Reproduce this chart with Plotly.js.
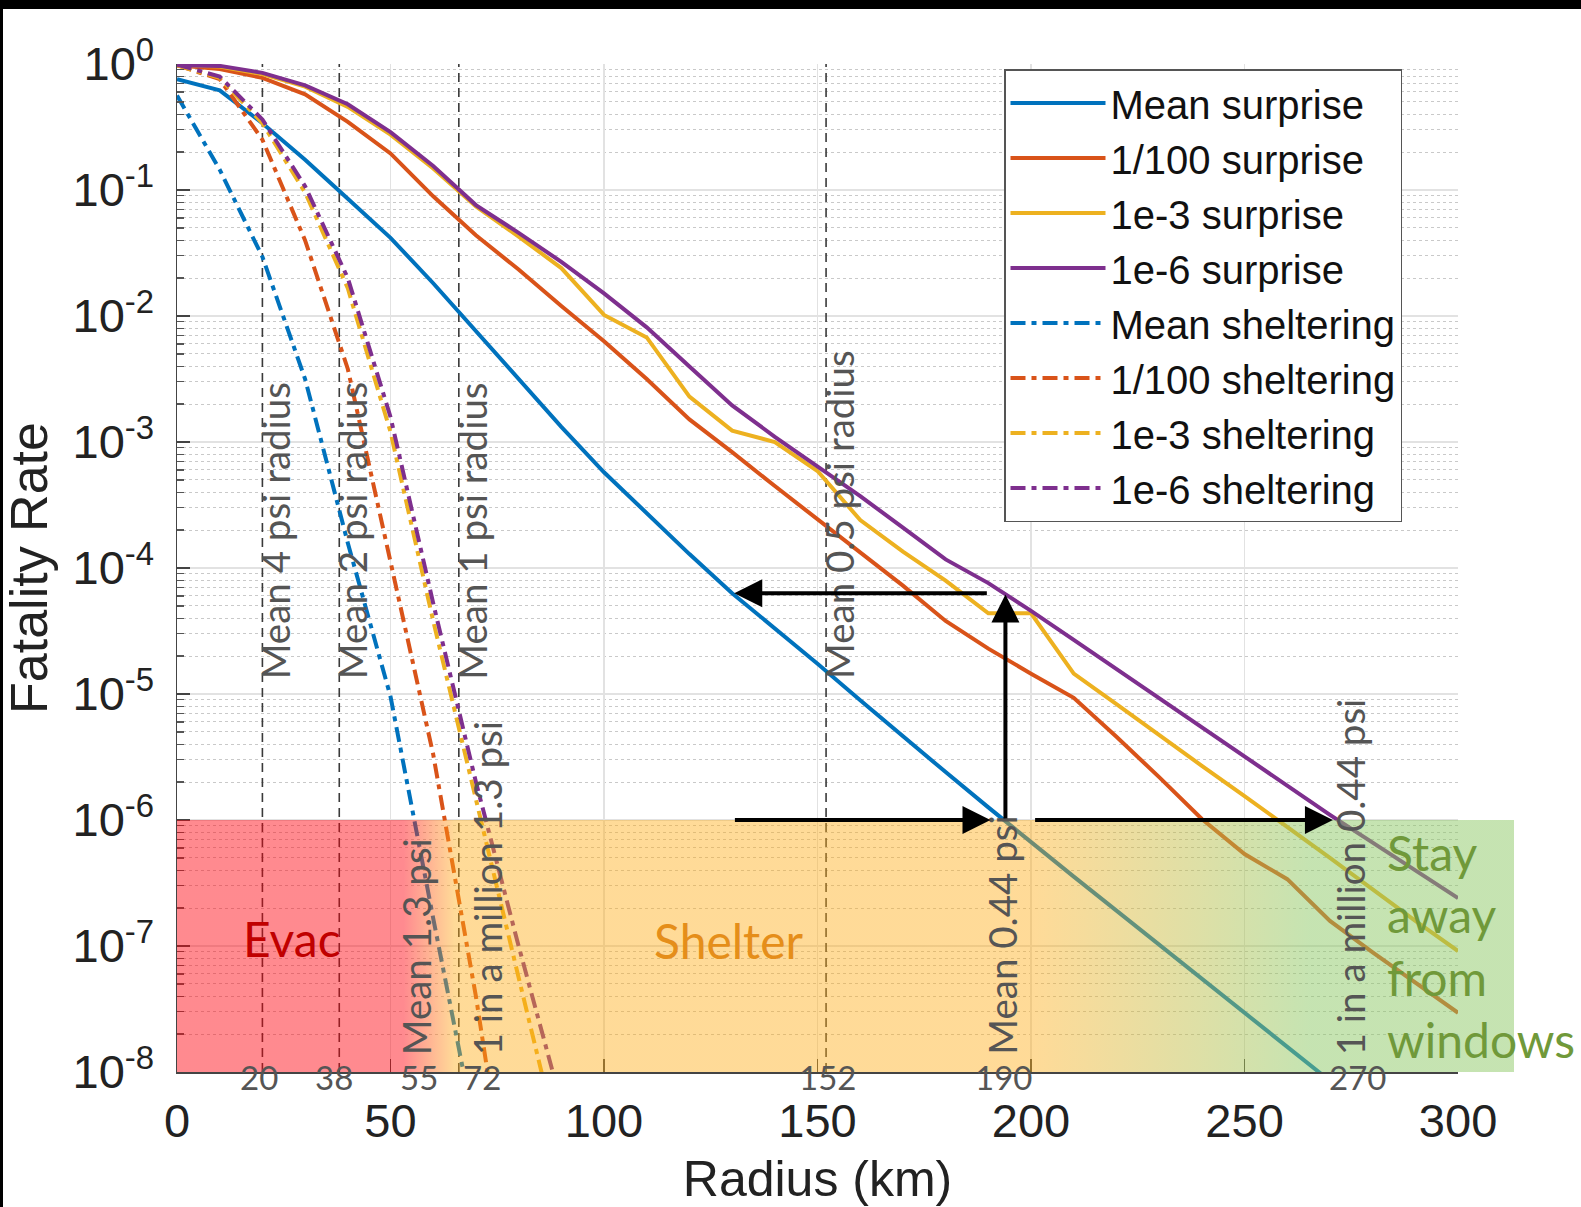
<!DOCTYPE html>
<html>
<head>
<meta charset="utf-8">
<script src="https://cdn.plot.ly/plotly-3.0.1.min.js"></script>
<style>
  html, body { margin: 0; padding: 0; background: #fff; }
  #chart { width: 1581px; height: 1207px; }
</style>
</head>
<body>
<div id="chart"></div>
<script>
// Radius grid (km) shared by the surprise curves
const radius = [0,10,20,30,40,50,60,70,80,90,100,110,120,130,140,150,160,170,180,190,200,210,220,230,240,250,260,270,280,290,300];
// Radius grid (km) for the sheltering curves
const shelterRadius = [0,10,20,30,40,50,60,70,80,90];

// Fatality rate, people caught outside (surprise)
const meanSurprise   = [0.759,0.617,0.339,0.174,0.0851,0.0417,0.0182,7.59e-3,3.16e-3,1.32e-3,5.75e-4,2.69e-4,1.29e-4,6.31e-5,3.31e-5,1.74e-5,8.91e-6,4.57e-6,2.40e-6,1.26e-6,6.61e-7,3.55e-7,1.91e-7,1.02e-7,5.50e-8,2.95e-8,1.58e-8,8.5e-9];
const pct1Surprise   = [0.977,0.912,0.776,0.575,0.347,0.195,0.0891,0.0437,0.0234,0.0120,6.31e-3,3.16e-3,1.51e-3,8.32e-4,4.47e-4,2.45e-4,1.35e-4,7.24e-5,3.80e-5,2.29e-5,1.45e-5,9.33e-6,4.57e-6,2.19e-6,1.02e-6,5.37e-7,3.39e-7,1.58e-7,8.91e-8,5.13e-8,2.95e-8];
const e3Surprise     = [0.977,0.955,0.832,0.661,0.457,0.275,0.148,0.0741,0.0427,0.0240,0.0102,6.76e-3,2.29e-3,1.23e-3,1.00e-3,5.89e-4,2.40e-4,1.35e-4,7.94e-5,4.37e-5,4.37e-5,1.45e-5,8.32e-6,4.68e-6,2.69e-6,1.55e-6,8.91e-7,5.01e-7,2.82e-7,1.58e-7,9.12e-8];
const e6Surprise     = [0.977,0.966,0.851,0.676,0.479,0.288,0.155,0.0759,0.0457,0.0269,0.0151,8.13e-3,3.98e-3,1.95e-3,1.10e-3,6.46e-4,3.72e-4,2.09e-4,1.17e-4,7.59e-5,4.57e-5,2.69e-5,1.58e-5,9.33e-6,5.50e-6,3.24e-6,1.91e-6,1.10e-6,6.61e-7,3.98e-7,2.40e-7];

// Fatality rate, people sheltering indoors
const meanSheltering = [0.562,0.145,0.0295,3.16e-3,1.58e-4,9.55e-6,1.66e-7,3.16e-9];
const pct1Sheltering = [0.977,0.759,0.251,0.0398,3.80e-3,1.12e-4,3.31e-6,3.98e-8,2.51e-10];
const e3Sheltering   = [0.977,0.776,0.339,0.0955,0.0166,1.20e-3,3.80e-5,1.41e-6,5.62e-8,2.24e-9];
const e6Sheltering   = [0.989,0.794,0.363,0.107,0.0200,1.58e-3,5.25e-5,2.00e-6,1.0e-7,5.62e-9];

const seriesNames = ['Mean surprise','1/100 surprise','1e-3 surprise','1e-6 surprise',
                     'Mean sheltering','1/100 sheltering','1e-3 sheltering','1e-6 sheltering'];

// Mean overpressure radii (km) drawn as dashed reference lines
const psiRadii  = [20, 38, 66, 152];
const psiLabels = ['Mean 4 psi radius','Mean 2 psi radius','Mean 1 psi radius','Mean 0.5 psi radius'];

// Where each curve reaches a one-in-a-million fatality rate
const crossLabels = ['Mean 1.3 psi','1 in a million 1.3 psi','Mean 0.44 psi','1 in a million 0.44 psi'];
const crossRadii  = [55, 72, 190, 270];
const radiusMarks = [20, 38, 55, 72, 152, 190, 270];

// Action zones below 1e-6 (km)
const evacEnd = 53, shelterStart = 65, shelterEnd = 200, windowsStart = 265, zoneRight = 313.1;
const zoneLow = 1e-8, zoneHigh = 1e-6;

const xTicks = [0, 50, 100, 150, 200, 250, 300];
const yTicks = [1e-8,1e-7,1e-6,1e-5,1e-4,1e-3,1e-2,1e-1,1];
const yTickText = ['10<sup>-8</sup>','10<sup>-7</sup>','10<sup>-6</sup>','10<sup>-5</sup>',
                   '10<sup>-4</sup>','10<sup>-3</sup>','10<sup>-2</sup>','10<sup>-1</sup>','10<sup>0</sup>'];

const minorY = [];
for (let e = -8; e < 0; e++) for (let m = 2; m <= 9; m++) minorY.push(m * Math.pow(10, e));

const palette = ['#0072BD', '#D95319', '#EDB120', '#7E2F8E'];
const dashDot = '15px,6px,5px,6px';

const traces = [];

// dashed reference radii
psiRadii.forEach(r => {
  traces.push({
    type: 'scatter', mode: 'lines', x: [r, r], y: [1e-8, 1],
    line: {color: '#3a3a3a', width: 1.6, dash: '9px,6px'},
    showlegend: false, hoverinfo: 'skip'
  });
});

const surpriseSets = [meanSurprise, pct1Surprise, e3Surprise, e6Surprise];
const shelterSets  = [meanSheltering, pct1Sheltering, e3Sheltering, e6Sheltering];

surpriseSets.forEach((vals, i) => {
  traces.push({
    type: 'scatter', mode: 'lines', name: seriesNames[i],
    x: radius.slice(0, vals.length), y: vals,
    line: {color: palette[i], width: 4}
  });
});
shelterSets.forEach((vals, i) => {
  traces.push({
    type: 'scatter', mode: 'lines', name: seriesNames[4 + i],
    x: shelterRadius.slice(0, vals.length), y: vals,
    line: {color: palette[i], width: 4, dash: dashDot}
  });
});

// translucent action-zone band laid over the curves
const f = v => v / zoneRight;
traces.push({
  type: 'scatter', mode: 'none', xaxis: 'x2', yaxis: 'y2',
  x: [0, zoneRight, zoneRight, 0, 0], y: [zoneHigh, zoneHigh, zoneLow, zoneLow, zoneHigh],
  fill: 'toself',
  fillgradient: {
    type: 'horizontal',
    colorscale: [
      [0, 'rgba(255,0,12,0.46)'],
      [f(evacEnd), 'rgba(255,0,12,0.46)'],
      [f(shelterStart), 'rgba(255,172,20,0.44)'],
      [f(shelterEnd), 'rgba(255,172,20,0.44)'],
      [f(windowsStart), 'rgba(140,200,100,0.5)'],
      [1, 'rgba(140,200,100,0.5)']
    ]
  },
  showlegend: false, hoverinfo: 'skip'
});

const calibri = 'Lato, "Open Sans", sans-serif';
const grayText = '#555555';
const annotations = [];

psiRadii.forEach((r, i) => {
  annotations.push({
    x: r, y: -4.9, xref: 'x', yref: 'y', text: psiLabels[i], showarrow: false,
    textangle: -90, xanchor: 'center', yanchor: 'bottom', xshift: 13,
    font: {family: calibri, size: 38.5, color: grayText}
  });
});

const crossShift = [5, 2, 14, 20];
crossRadii.forEach((r, i) => {
  annotations.push({
    x: r, y: -7.88, xref: 'x', yref: 'y', text: crossLabels[i], showarrow: false,
    textangle: -90, xanchor: 'center', yanchor: 'bottom', xshift: crossShift[i],
    font: {family: calibri, size: 38.5, color: grayText}
  });
});

// pixel row helpers for paper-referenced positions (plot area 177..1514 x, 64..1072 y)
const px = v => (v - 177) / 1337;
const py = v => (1072 - v) / 1008;

const markShift = [-3, -5, 7, -2, 1, 15, 28];
radiusMarks.forEach((r, i) => {
  annotations.push({
    x: r, y: py(1077), xref: 'x', yref: 'paper', text: String(r), showarrow: false,
    xanchor: 'center', yanchor: 'middle', xshift: markShift[i],
    font: {family: calibri, size: 33, color: grayText}
  });
});

annotations.push(
  {x: 27, y: -6.94, xref: 'x', yref: 'y', text: 'Evac', showarrow: false,
   font: {family: calibri, size: 48, color: '#C00000'}},
  {x: 129.3, y: -6.96, xref: 'x', yref: 'y', text: 'Shelter', showarrow: false,
   font: {family: calibri, size: 48, color: '#E58E1A'}},
  {x: 282.8, y: -7.0, xref: 'x', yref: 'y', text: 'Stay<br>away<br>from<br>windows', showarrow: false,
   xanchor: 'left', align: 'left', font: {family: calibri, size: 48, color: '#70993A'}}
);

// reading arrows: [tailX, tailLog10, tipX, tipLog10]
const arrowPaths = [
  [130.3, -6, 190.5, -6],
  [194, -6, 194, -4.21],
  [190, -4.2, 130.5, -4.2],
  [200.6, -6, 270.7, -6]
];
arrowPaths.forEach(p => {
  annotations.push({
    x: p[2], y: p[3], ax: p[0], ay: p[1], xref: 'x', yref: 'y', axref: 'x', ayref: 'y',
    text: '', showarrow: true, arrowhead: 2, arrowsize: 1.4, arrowwidth: 4,
    arrowcolor: '#000', standoff: 0, startstandoff: 0
  });
});

const layout = {
  width: 1581, height: 1207,
  margin: {l: 177, r: 67, t: 64, b: 135, pad: 0},
  paper_bgcolor: '#fff', plot_bgcolor: 'rgba(0,0,0,0)',
  font: {family: '"Liberation Sans", Arial, sans-serif', color: '#222'},
  showlegend: true,
  xaxis: {
    domain: [0, 300 / zoneRight], range: [0, 300], anchor: 'y',
    tickmode: 'array', tickvals: xTicks,
    ticks: 'inside', ticklen: 13, tickwidth: 1.5, tickcolor: '#444',
    showline: true, linecolor: '#444', linewidth: 1.5,
    showgrid: true, gridcolor: '#e2e2e2', gridwidth: 1.2, zeroline: false,
    tickfont: {size: 47, color: '#222'}, ticklabelstandoff: 7,
    title: {text: 'Radius (km)', font: {size: 50, color: '#222'}, standoff: 26}
  },
  yaxis: {
    type: 'log', range: [-8, 0], anchor: 'x',
    tickmode: 'array', tickvals: yTicks, ticktext: yTickText,
    ticks: 'inside', ticklen: 13, tickwidth: 1.5, tickcolor: '#444',
    showline: true, linecolor: '#444', linewidth: 1.5,
    showgrid: true, gridcolor: '#e2e2e2', gridwidth: 1.2, zeroline: false,
    tickfont: {size: 47, color: '#222'}, ticklabelstandoff: 12,
    minor: {tickmode: 'array', tickvals: minorY, ticks: 'inside', ticklen: 7, tickwidth: 1.2,
            tickcolor: '#555', showgrid: true, gridcolor: '#c9c9c9', griddash: 'dot', gridwidth: 1},
    title: {text: 'Fatality Rate', font: {size: 52, color: '#222'}, standoff: 10}
  },
  xaxis2: {domain: [0, 1], range: [0, zoneRight], anchor: 'y2', visible: false},
  yaxis2: {domain: [0, 1], type: 'log', range: [-8, 0], anchor: 'x2', visible: false},
  legend: {
    x: px(1004), y: py(69), xanchor: 'left', yanchor: 'top',
    bgcolor: '#fff', bordercolor: '#555', borderwidth: 1.5,
    font: {size: 40, color: '#111'}, itemwidth: 95, tracegroupgap: 0,
    traceorder: 'normal'
  },
  annotations: annotations,
  shapes: [
    {type: 'rect', xref: 'paper', yref: 'paper', x0: px(0), x1: px(1581), y0: py(9), y1: py(0),
     fillcolor: '#000', line: {width: 0}},
    {type: 'rect', xref: 'paper', yref: 'paper', x0: px(0), x1: px(3), y0: py(1207), y1: py(0),
     fillcolor: '#000', line: {width: 0}}
  ]
};

Plotly.newPlot('chart', traces, layout, {staticPlot: true, displayModeBar: false});
</script>
</body>
</html>
